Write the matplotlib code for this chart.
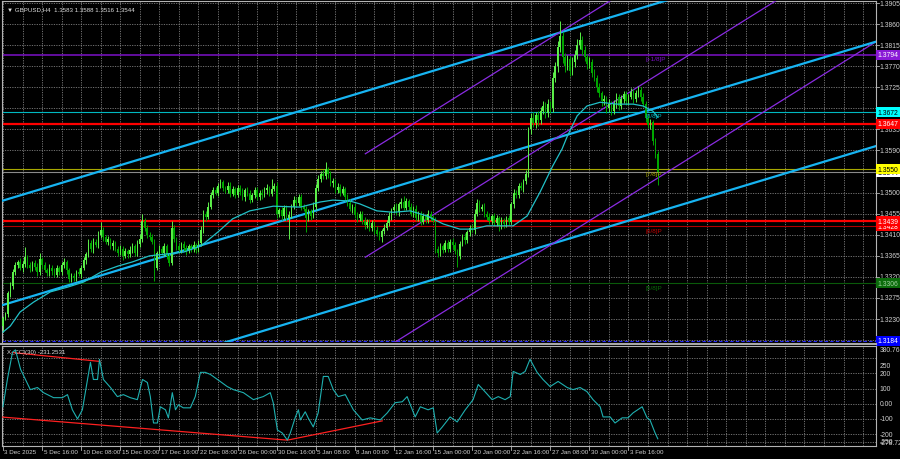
import numpy as np
import matplotlib.pyplot as plt
import matplotlib.transforms as mtransforms
from matplotlib.lines import Line2D

plt.rcParams['font.family'] = ['Liberation Sans', 'DejaVu Sans']

# ---- GBPUSD H4 candles: closes in pips above 1.3000, wick extras in pips ----
first_open = 1.3215
close_pips = [
    232, 240, 285, 300, 330, 345, 352, 340, 348, 362,
    345, 338, 350, 342, 330, 358, 345, 335, 328, 340,
    332, 325, 338, 330, 345, 352, 335, 315, 322, 318,
    330, 326, 340, 355, 368, 392, 380, 395, 388, 410,
    420, 405, 395, 400, 385, 392, 380, 372, 380, 365,
    375, 368, 378, 385, 370, 390, 400, 440, 425, 410,
    405, 395, 340, 370, 380, 372, 385, 365, 350, 425,
    400, 385, 378, 390, 382, 375, 385, 380, 388, 378,
    392, 420, 455, 448, 470, 495, 505, 500, 515, 522,
    510, 505, 515, 498, 508, 495, 510, 502, 490, 505,
    498, 485, 495, 505, 490, 500, 495, 505, 510, 498,
    508, 515, 455, 462, 450, 468, 445, 452, 470, 485,
    478, 490, 470, 465, 445, 460, 450, 470, 510, 530,
    540, 535, 550, 540, 520, 525, 505, 512, 500, 508,
    490, 478, 465, 470, 452, 445, 455, 440, 430, 438,
    425, 435, 420, 412, 405, 418, 425, 435, 450, 462,
    470, 458, 475, 480, 468, 482, 470, 455, 465, 445,
    455, 438, 450, 442, 455, 448, 440, 380, 370, 385,
    378, 392, 380, 395, 388, 375, 365, 390, 405, 398,
    415, 425, 420, 455, 478, 465, 470, 455, 448, 440,
    450, 435, 445, 428, 440, 432, 445, 438, 475, 500,
    495, 515, 510, 525, 540, 635, 660, 648, 665, 655,
    675, 685, 670, 690, 680, 745, 770, 810, 835, 790,
    770, 785, 760, 778, 795, 815, 825, 805, 790, 775,
    780, 755, 745, 725, 712, 695, 700, 680, 690, 675,
    690, 705, 685, 700, 710, 695, 705, 715, 700, 712,
    720, 705, 690, 660, 645, 650, 610, 583, 544,
]
wick_up = [
    4, 6, 5, 8, 6, 7, 5, 9, 6, 22,
    5, 7, 4, 6, 8, 12, 5, 6, 4, 7,
    5, 6, 8, 5, 6, 9, 4, 5, 7, 6,
    5, 8, 6, 7, 5, 9, 6, 8, 5, 7,
    17, 6, 5, 8, 4, 7, 5, 6, 8, 5,
    6, 5, 7, 8, 5, 9, 12, 14, 6, 5,
    5, 7, 6, 5, 8, 6, 7, 5, 6, 14,
    5, 6, 8, 5, 6, 7, 5, 6, 8, 5,
    6, 8, 7, 6, 9, 7, 6, 8, 5, 7,
    6, 5, 7, 8, 6, 5, 7, 6, 8, 5,
    6, 7, 5, 8, 6, 5, 7, 6, 9, 5,
    21, 6, 8, 5, 7, 6, 5, 8, 6, 7,
    5, 6, 8, 5, 7, 6, 5, 9, 8, 7,
    6, 8, 15, 5, 7, 6, 5, 8, 6, 7,
    5, 6, 8, 5, 7, 6, 5, 6, 8, 5,
    6, 7, 5, 8, 6, 5, 7, 6, 8, 5,
    6, 7, 5, 8, 13, 6, 5, 7, 6, 8,
    5, 6, 7, 5, 8, 6, 5, 7, 6, 8,
    5, 6, 7, 5, 8, 6, 5, 7, 6, 8,
    5, 6, 7, 9, 9, 6, 5, 7, 6, 8,
    5, 6, 7, 5, 8, 6, 5, 7, 6, 8,
    5, 6, 7, 5, 8, 6, 9, 12, 8, 10,
    7, 10, 8, 9, 6, 12, 10, 14, 31, 9,
    8, 10, 7, 12, 9, 14, 18, 10, 8, 7,
    9, 6, 8, 7, 9, 6, 8, 7, 9, 6,
    7, 8, 6, 9, 7, 8, 6, 9, 7, 8,
    8, 6, 7, 5, 6, 8, 5, 6, 5,
]
wick_dn = [
    12, 5, 6, 8, 6, 7, 5, 6, 9, 7,
    6, 8, 5, 7, 9, 6, 8, 5, 7, 6,
    8, 6, 5, 7, 6, 5, 8, 6, 5, 7,
    6, 5, 8, 6, 7, 5, 6, 8, 5, 7,
    6, 8, 5, 7, 6, 8, 5, 7, 6, 9,
    5, 7, 6, 8, 5, 6, 7, 5, 8, 6,
    7, 5, 29, 6, 8, 5, 7, 6, 7, 5,
    6, 8, 5, 7, 6, 8, 5, 7, 6, 8,
    5, 6, 7, 8, 5, 6, 7, 6, 8, 5,
    7, 6, 5, 8, 6, 7, 5, 8, 6, 7,
    5, 8, 6, 7, 5, 6, 8, 5, 7, 6,
    6, 5, 9, 7, 8, 6, 5, 44, 7, 6,
    8, 6, 7, 5, 29, 6, 8, 5, 7, 6,
    7, 6, 5, 8, 6, 7, 5, 6, 8, 5,
    7, 6, 5, 8, 6, 7, 5, 6, 8, 5,
    7, 6, 8, 5, 7, 10, 6, 5, 7, 8,
    5, 6, 8, 7, 6, 5, 7, 6, 8, 5,
    6, 8, 5, 7, 6, 8, 5, 9, 7, 6,
    8, 5, 7, 6, 8, 7, 24, 6, 5, 8,
    6, 7, 5, 8, 6, 7, 5, 8, 6, 7,
    8, 6, 7, 9, 6, 8, 5, 7, 6, 8,
    6, 7, 5, 8, 6, 7, 9, 8, 10, 12,
    8, 7, 10, 9, 11, 8, 9, 12, 10, 14,
    12, 9, 11, 8, 10, 9, 8, 12, 9, 10,
    8, 9, 7, 10, 8, 9, 7, 10, 8, 9,
    7, 9, 8, 6, 9, 7, 8, 6, 9, 7,
    8, 9, 7, 10, 8, 9, 8, 10, 28,
]

# moving average (bar index, price)
ma_bar = [0, 3, 7, 12.5, 19.4, 26.4, 33, 40, 47, 53, 60, 67, 74, 81, 88, 94, 101,
          110.6, 121.7, 129.9, 135, 142, 146, 153, 159.7, 166.7, 173.6, 180.2, 187,
          192.4, 198, 208.8, 214.5, 219.8, 225, 228.8, 231, 235, 239, 244.4, 251.3,
          257.9, 262, 266, 268]
ma_val = [1.3202, 1.3215, 1.3245, 1.3266, 1.3288, 1.3298, 1.3309, 1.3330, 1.3343,
          1.3352, 1.3365, 1.3369, 1.3373, 1.3386, 1.3416, 1.3444, 1.3461, 1.3471,
          1.3469, 1.3480, 1.3484, 1.3482, 1.3476, 1.3461, 1.3458, 1.3461, 1.3450,
          1.3433, 1.3422, 1.3422, 1.3429, 1.3429, 1.3450, 1.3501, 1.3557, 1.3593,
          1.3621, 1.3664, 1.3685, 1.3693, 1.3689, 1.3689, 1.3685, 1.3674, 1.3661]

# CCI(30) (bar index, value)
cci_bar = [0, 1.8, 3.9, 5.1, 7.2, 9.2, 11.2, 14.1, 16.6, 20.7, 24.3, 26.4, 28.4, 30.5,
           32.5, 34.6, 35.8, 37, 38.7, 39.5, 41.1, 44, 46.8, 49.3, 52.1, 55, 57.1,
           59.1, 60.3, 61.6, 63.2, 64.4, 66.5, 67.7, 69.3, 70.6, 71.8, 73.8, 76.7,
           78.7, 80.8, 82.8, 84.9, 88.9, 91.8, 94.3, 98.4, 102.5, 106.5, 109.4,
           110.6, 112.3, 114.3, 116.4, 117.6, 119.7, 120.9, 121.7, 123.7, 124.9,
           127, 129, 131.1, 133.1, 135.2, 137.2, 140.1, 143.4, 147, 150.3, 154.4,
           157.3, 160.5, 163.4, 165.4, 168.7, 170.8, 174, 176.1, 177.7, 179.8, 183,
           185.9, 189.2, 192.4, 194.5, 196.5, 200.2, 202.7, 205.5, 207.6, 208.8,
           211.7, 213.7, 215.7, 218.6, 221, 223.9, 227.2, 230.9, 233.3, 236.2, 239,
           241.5, 244.4, 245.6, 248.5, 250.5, 253.4, 255.8, 257.9, 261.6, 263.6,
           264.8, 266.9, 268]
cci_val = [-20, 160, 340, 355, 227, 160, 93, 107, 73, 40, 40, 60, -40, -100,
           -40, 160, 273, 160, 160, 293, 160, 107, 47, 60, 40, 27, 160,
           140, 47, -127, -127, -20, -40, -93, 73, -40, -7, -27, -27,
           47, 207, 207, 193, 147, 113, 93, 73, 27, 47, 73,
           7, -173, -193, -240, -193, -87, -40, -107, -53, -93,
           -153, -60, 180, 180, 93, 47, 60, -40, -107, -93, -107,
           -60, 7, 13, 47, -87, -20, -40, -27, -193, -153, -87,
           -120, -40, 27, 127, 93, 27, 47, 27, 47, 213,
           193, 213, 293, 207, 160, 113, 147, 107, 93, 107, 80,
           27, -20, -87, -87, -127, -93, -93, -60, -20, -93,
           -107, -193, -231.25]

# divergence lines on the CCI panel
div_hi_bar, div_hi_val = [3.7, 39.7], [338, 279]
div_lo_bar, div_lo_val = [-1, 116.4, 155.2], [-87, -240, -113]

# regression channel (blue) and trend channel (purple)
chan_bar = [0, 357]
chan_mid = [1.3260, 1.3822]
chan_half = 0.0223
pch_bar = [148.3, 357.5]
pch_mid = [1.3362, 1.3362 + 0.000326 * (357.5 - 148.3)]
pch_step = 0.0221

# horizontal levels
lvl_price = [1.3794, 1.3672, 1.3647, 1.3550, 1.3544, 1.3439, 1.3428, 1.3306, 1.3184]
lvl_line = ['#7d12c8', '#00b8c0', '#ff0000', '#a8a800', '#8a8a8a', '#ff0000', '#b00000', '#0a5a0a', '#2a2aff']
lvl_lw = [1.1, 0.8, 1.6, 0.8, 0.8, 1.6, 0.8, 0.8, 0.8]
lvl_box = ['#8a1ad6', '#00ffff', '#ff0000', '#ffff00', '#ffffff', '#ff0000', '#ff0000', '#0b6b0b', '#0000ff']
lvl_txt = ['white', 'black', 'white', 'black', 'black', 'white', 'white', '#9fd09f', 'white']

murrey_txt = ['[+1/8]P', '[8/8]P', '[7/8]P', '[6/8]P', '[5/8]P']
murrey_price = [1.3794, 1.3672, 1.3550, 1.3428, 1.3306]
murrey_col = ['#7d12c8', '#00b8c0', '#a8a800', '#c00000', '#0a6a0a']

# grid levels; the labels hidden under the level boxes are left out
price_grid = [1.3905, 1.3860, 1.3815, 1.3770, 1.3725, 1.3680, 1.3635, 1.3590, 1.3545,
              1.3500, 1.3455, 1.3410, 1.3365, 1.3320, 1.3275, 1.3230, 1.3185]
price_labels = [1.3905, 1.3860, 1.3815, 1.3770, 1.3725, 1.3635, 1.3590,
                1.3500, 1.3455, 1.3410, 1.3365, 1.3320, 1.3275, 1.3230]
cci_ticks = [250, 200, 100, 0, -100, -200, -250]
cci_tick_txt = ['250', '200', '100', '0.00', '-100', '-200', '-250']

x_labels = ['3 Dec 2025', '5 Dec 16:00', '10 Dec 08:00', '15 Dec 00:00', '17 Dec 16:00',
            '22 Dec 08:00', '26 Dec 00:00', '30 Dec 16:00', '5 Jan 08:00', '8 Jan 00:00',
            '12 Jan 16:00', '15 Jan 00:00', '20 Jan 00:00', '22 Jan 16:00', '27 Jan 08:00',
            '30 Jan 00:00', '3 Feb 16:00']

# ---------------------------------------------------------------------------
closes = 1.3 + np.array(close_pips) / 10000
opens = np.concatenate([[first_open], closes[:-1]])
highs = np.maximum(opens, closes) + np.array(wick_up) / 10000
lows = np.minimum(opens, closes) - np.array(wick_dn) / 10000
idx = np.arange(len(closes))

W, H = 900, 460
fig = plt.figure(figsize=(9, 4.6), dpi=100, facecolor='black')
ax = fig.add_axes([2 / W, 1 - 343 / H, 874 / W, 341 / H], facecolor='black')
ax2 = fig.add_axes([2 / W, 1 - 447 / H, 874 / W, 100 / H], facecolor='black')

XMIN, XMAX = -0.4, 357.3
ax.set_xlim(XMIN, XMAX)
ax.set_ylim(1.31809, 1.39093)
ax2.set_xlim(XMIN, XMAX)
ax2.set_ylim(-278.7218, 380.7633)

grid_kw = dict(color='#8c8c8c', lw=0.55, dashes=(1.6, 1.6), zorder=0)
for a in (ax, ax2):
    a.set_xticks([])
    a.set_yticks([])
    for s in a.spines.values():
        s.set_color('#b4b4b4')
        s.set_linewidth(0.8)
    for b in range(0, 358, 8):
        a.axvline(b, **grid_kw)
ax.spines['bottom'].set_visible(False)
for p in price_grid:
    ax.axhline(p, **grid_kw)
for v in [300, 200, 100, 0, -100, -200, -250]:
    ax2.axhline(v, **grid_kw)

# channels
for k in (-1, 0, 1):
    ax.plot(chan_bar, [m + k * chan_half for m in chan_mid], color='#17b4f2', lw=1.6, zorder=3)
    ax.plot(pch_bar, [m + k * pch_step for m in pch_mid], color='#8a2be2', lw=0.9, zorder=3)

# horizontal levels
for p, c, lw in zip(lvl_price, lvl_line, lvl_lw):
    ls = (0, (3, 2)) if p == 1.3184 else '-'
    ax.axhline(p, color=c, lw=lw, ls=ls, zorder=2)

# candles
bull = closes >= opens
body_col = np.where(bull, '#5cf04a', '#00a800')
ax.vlines(idx, lows, highs, colors=body_col, lw=0.7, zorder=4)
ax.bar(idx, np.maximum(np.abs(closes - opens), 0.00008), bottom=np.minimum(opens, closes),
       width=0.62, color=body_col, linewidth=0, zorder=5)

ax.plot(ma_bar, ma_val, color='#22c1c8', lw=0.9, zorder=6)

# murrey labels
for t, p, c in zip(murrey_txt, murrey_price, murrey_col):
    ax.text(263, p - 0.0003, t, color=c, fontsize=4.6, va='top', ha='left', zorder=7)

# price axis
ty = mtransforms.blended_transform_factory(ax.transAxes, ax.transData)
for p in price_grid:
    ax.plot([1.0, 1.003], [p, p], transform=ty, color='#b4b4b4', lw=0.6, clip_on=False)
for p in price_labels:
    ax.text(1.004, p, f'{p:.4f}', transform=ty, color='#d0d0d0', fontsize=4.9,
            va='center', ha='left', clip_on=False)
order = [0, 1, 2, 4, 3, 6, 5, 7, 8]
for i in order:
    ax.text(1.0015, lvl_price[i], f'{lvl_price[i]:.4f}', transform=ty, color=lvl_txt[i],
            fontsize=4.9, va='center', ha='left', clip_on=False, zorder=10,
            bbox=dict(boxstyle='square,pad=0.22', fc=lvl_box[i], ec='none'))

ax.text(0.006, 0.985, '\u25bc GBPUSD,H4  1.3583 1.3588 1.3516 1.3544', transform=ax.transAxes,
        color='#e0e0e0', fontsize=4.4, va='top', ha='left')

# CCI panel
ax2.plot(cci_bar, cci_val, color='#1fb0b0', lw=0.8, zorder=4)
ax2.plot(div_hi_bar, div_hi_val, color='#ff2020', lw=0.9, zorder=3)
ax2.plot(div_lo_bar, div_lo_val, color='#ff2020', lw=0.9, zorder=3)
ax2.text(0.006, 0.97, 'X_CCI(30) -231.2531', transform=ax2.transAxes, color='#e0e0e0',
         fontsize=4.4, va='top', ha='left')
ty2 = mtransforms.blended_transform_factory(ax2.transAxes, ax2.transData)
for v, t in zip(cci_ticks, cci_tick_txt):
    ax2.text(1.004, v, t, transform=ty2, color='#d0d0d0', fontsize=4.9, va='center',
             ha='left', clip_on=False)
ax2.text(1.004, 380.7633, '380.7633', transform=ty2, color='#d0d0d0', fontsize=4.9,
         va='top', ha='left', clip_on=False)
ax2.text(1.004, -278.7218, '-278.7218', transform=ty2, color='#d0d0d0', fontsize=4.9,
         va='bottom', ha='left', clip_on=False)

# time axis
tx = mtransforms.blended_transform_factory(ax2.transData, ax2.transAxes)
for k, lab in enumerate(x_labels):
    b = 16 * k
    ax2.plot([b, b], [0, -0.04], transform=tx, color='#b4b4b4', lw=0.6, clip_on=False)
    ax2.text(b + 0.6, -0.03, lab, transform=tx, color='#d0d0d0', fontsize=4.5,
             va='top', ha='left', clip_on=False)

# separator between panels
fig.add_artist(Line2D([0, 876 / W], [1 - 344.7 / H] * 2, color='#a8a8a8', lw=1.5))

fig.savefig('out.png', dpi=100, facecolor='black')
